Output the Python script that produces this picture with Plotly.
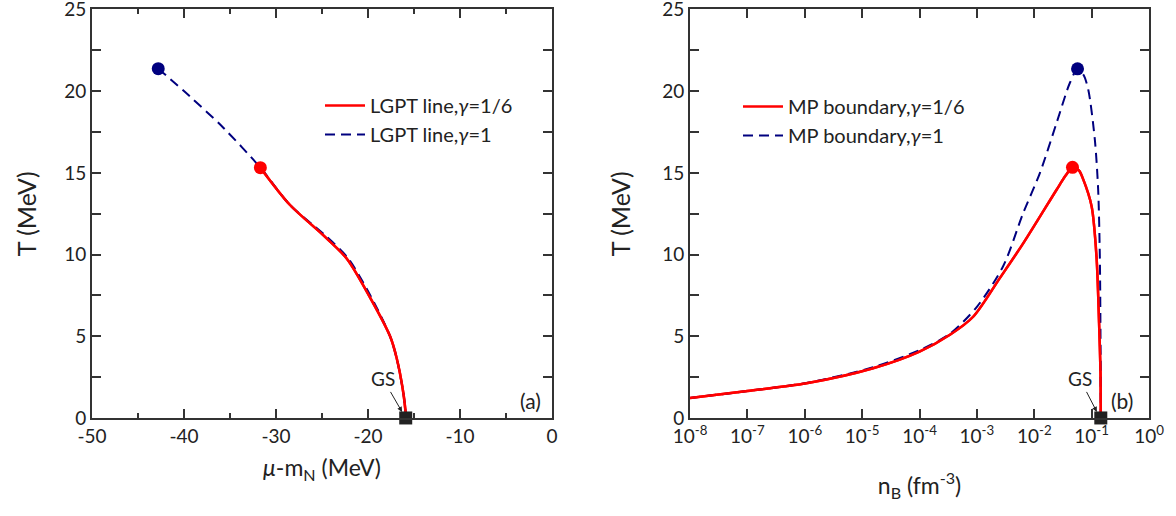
import plotly.graph_objects as go

# ---------------- data ----------------
# panel (a): LGPT line, T vs mu - m_N
mu_g16 = [-31.7, -28.5, -24.9, -22.3, -19.8, -17.6, -16.9, -16.15, -15.85]
T_mu_g16 = [15.32, 13.05, 11.2, 9.75, 7.4, 5.0, 3.7, 1.5, 0.0]
mu_g1 = [-42.8, -39.4, -35.7, -31.7, -28.5, -24.8, -22.2, -19.7, -17.6, -16.9, -16.15, -15.85]
T_mu_g1 = [21.38, 19.7, 17.75, 15.32, 13.05, 11.25, 9.8, 7.45, 5.0, 3.7, 1.5, 0.0]
cep_a_mu = [-31.7, -42.8]
cep_a_T = [15.32, 21.38]
gs_mu = [-15.9]
gs_T_a = [0.0]

# panel (b): MP boundary, T vs n_B
nB_g16 = [1e-8, 1e-7, 1.07e-6, 1.55e-5, 1e-4, 3.39e-4, 8.7e-4, 2.51e-3, 6.46e-3,
          0.0245, 0.0355, 0.0464, 0.0600, 0.0714, 0.1, 0.1216, 0.1349, 0.1429, 0.1445]
T_nB_g16 = [1.22, 1.65, 2.12, 3.04, 4.06, 5.09, 6.21, 8.56, 10.7,
            13.97, 14.85, 15.34, 15.15, 14.6, 12.95, 9.88, 5.8, 2.74, 0.0]
nB_g1 = [1e-8, 1e-7, 1.07e-6, 1.55e-5, 1e-4, 3.39e-4, 1.0e-3, 2.88e-3, 6.41e-3,
         0.01253, 0.0245, 0.0417, 0.0568, 0.0720, 0.0873, 0.1138, 0.130, 0.139, 0.1429, 0.1445]
T_nB_g1 = [1.22, 1.65, 2.14, 3.1, 4.15, 5.15, 6.8, 9.3, 12.54,
           14.99, 18.06, 20.5, 21.37, 21.0, 20.1, 17.03, 13.97, 9.88, 4.78, 0.0]
cep_b_n = [0.0464, 0.0568]
cep_b_T = [15.34, 21.37]
gs_n = [0.1445]
gs_T_b = [0.0]

xa_ticks = [-50, -40, -30, -20, -10, 0]
xa_text = ["-50", "-40", "-30", "-20", "-10", "0"]
xb_ticks = [1e-8, 1e-7, 1e-6, 1e-5, 1e-4, 1e-3, 1e-2, 1e-1, 1e0]
xb_text = ["10<sup>-8</sup>", "10<sup>-7</sup>", "10<sup>-6</sup>", "10<sup>-5</sup>",
           "10<sup>-4</sup>", "10<sup>-3</sup>", "10<sup>-2</sup>", "10<sup>-1</sup>",
           "10<sup>0</sup>"]
y_ticks = [0, 5, 10, 15, 20, 25]

RED = "#ff0000"
BLUE = "#00007f"
AX = "#333333"
FONT = "Lato"

fig = go.Figure()

# panel (a)
fig.add_trace(go.Scatter(x=mu_g16, y=T_mu_g16, mode="lines", line=dict(color=RED, width=2.5, shape="spline", smoothing=0.8),
                         name="LGPT line,<i>γ</i>=1/6", xaxis="x", yaxis="y", legend="legend", cliponaxis=False))
fig.add_trace(go.Scatter(x=mu_g1, y=T_mu_g1, mode="lines", line=dict(color=BLUE, width=2, dash="10px,6px", shape="spline", smoothing=0.8),
                         name="LGPT line,<i>γ</i>=1", xaxis="x", yaxis="y", legend="legend", cliponaxis=False))
fig.add_trace(go.Scatter(x=mu_g16, y=T_mu_g16, mode="lines", line=dict(color=RED, width=2.5, shape="spline", smoothing=0.8),
                         showlegend=False, xaxis="x", yaxis="y", cliponaxis=False))
fig.add_trace(go.Scatter(x=cep_a_mu, y=cep_a_T, mode="markers", marker=dict(color=[RED, BLUE], size=13),
                         showlegend=False, xaxis="x", yaxis="y", cliponaxis=False))
fig.add_trace(go.Scatter(x=gs_mu, y=gs_T_a, mode="markers", marker=dict(color="#222222", size=13, symbol="square"),
                         showlegend=False, xaxis="x", yaxis="y", cliponaxis=False))

# panel (b)
fig.add_trace(go.Scatter(x=nB_g16, y=T_nB_g16, mode="lines", line=dict(color=RED, width=2.5, shape="spline", smoothing=0.8),
                         name="MP boundary,<i>γ</i>=1/6", xaxis="x2", yaxis="y2", legend="legend2", cliponaxis=False))
fig.add_trace(go.Scatter(x=nB_g1, y=T_nB_g1, mode="lines", line=dict(color=BLUE, width=2, dash="10px,6px", shape="spline", smoothing=0.8),
                         name="MP boundary,<i>γ</i>=1", xaxis="x2", yaxis="y2", legend="legend2", cliponaxis=False))
fig.add_trace(go.Scatter(x=nB_g16, y=T_nB_g16, mode="lines", line=dict(color=RED, width=2.5, shape="spline", smoothing=0.8),
                         showlegend=False, xaxis="x2", yaxis="y2", cliponaxis=False))
fig.add_trace(go.Scatter(x=cep_b_n, y=cep_b_T, mode="markers", marker=dict(color=[RED, BLUE], size=13),
                         showlegend=False, xaxis="x2", yaxis="y2", cliponaxis=False))
fig.add_trace(go.Scatter(x=gs_n, y=gs_T_b, mode="markers", marker=dict(color="#222222", size=13, symbol="square"),
                         showlegend=False, xaxis="x2", yaxis="y2", cliponaxis=False))

axis_common = dict(showline=True, linecolor=AX, linewidth=2, mirror="allticks", ticks="inside",
                   ticklen=9, tickwidth=2, tickcolor=AX, showgrid=False, zeroline=False, automargin=False,
                   ticklabeloverflow="allow",
                   tickfont=dict(size=19, color="#222222", family=FONT))
ydom = [0.19, 0.9816]

fig.update_layout(
    width=1176, height=516,
    margin=dict(l=0, r=0, t=0, b=0, autoexpand=False),
    paper_bgcolor="white", plot_bgcolor="white",
    font=dict(family=FONT, color="#222222"),
    xaxis=dict(domain=[92/1176, 552/1176], range=[-50, 0], tickmode="array", tickvals=xa_ticks, ticktext=xa_text,
               minor=dict(ticks="inside", ticklen=5, tickwidth=2, tickcolor=AX, dtick=5, tick0=0),
               title=dict(text="<i>μ</i>-m<sub>N</sub> (MeV)", font=dict(size=23), standoff=14),
               anchor="y", **axis_common),
    yaxis=dict(domain=ydom, range=[0, 25], tickmode="array", tickvals=y_ticks,
               minor=dict(ticks="inside", ticklen=9, tickwidth=2, tickcolor=AX, dtick=2.5, tick0=0),
               title=dict(text="T (MeV)", font=dict(size=25), standoff=20),
               anchor="x", **axis_common),
    xaxis2=dict(domain=[690/1176, 1149/1176], type="log", range=[-8, 0], tickmode="array", tickvals=xb_ticks,
                ticktext=xb_text,
                title=dict(text="n<sub>B</sub> (fm<sup>-3</sup>)", font=dict(size=23), standoff=32),
                anchor="y2", **axis_common),
    yaxis2=dict(domain=ydom, range=[0, 25], tickmode="array", tickvals=y_ticks,
                minor=dict(ticks="inside", ticklen=9, tickwidth=2, tickcolor=AX, dtick=2.5, tick0=0),
                title=dict(text="T (MeV)", font=dict(size=25), standoff=24),
                anchor="x2", **axis_common),
    legend=dict(x=320/1176, y=1-86/516, xanchor="left", yanchor="top", bgcolor="rgba(0,0,0,0)",
                font=dict(size=20, family=FONT), tracegroupgap=0, itemwidth=40),
    legend2=dict(x=738/1176, y=1-87/516, xanchor="left", yanchor="top", bgcolor="rgba(0,0,0,0)",
                 font=dict(size=20, family=FONT), tracegroupgap=0, itemwidth=40),
    annotations=[
        dict(text="GS", x=-16.3, y=0.37, xref="x", yref="y", ax=-19, ay=-33, showarrow=True,
             arrowhead=2, arrowsize=1, arrowwidth=1, arrowcolor="#222222", font=dict(size=19)),
        dict(text="GS", x=-0.909, y=0.37, xref="x2", yref="y2", ax=-17, ay=-33, showarrow=True,
             arrowhead=2, arrowsize=1, arrowwidth=1, arrowcolor="#222222", font=dict(size=19)),
        dict(text="(a)", x=-2.39, y=1.04, xref="x", yref="y", showarrow=False, font=dict(size=21)),
        dict(text="(b)", x=-0.474, y=1.04, xref="x2", yref="y2", showarrow=False, font=dict(size=21)),
    ],
)

fig.write_html("out.html")
